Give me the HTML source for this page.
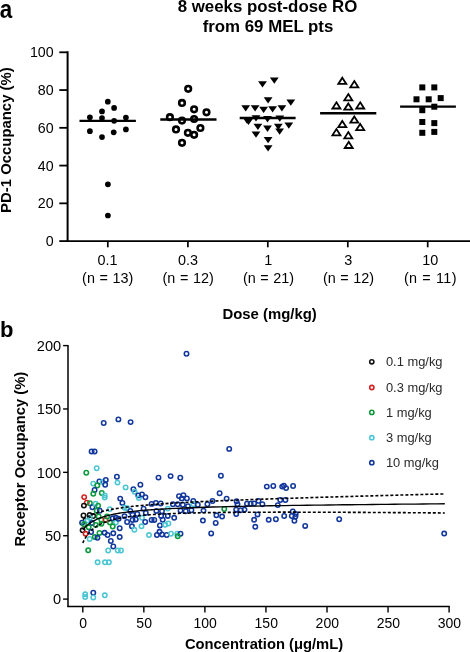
<!DOCTYPE html>
<html><head><meta charset="utf-8"><style>
html,body{margin:0;padding:0;background:#fff;}
body{width:470px;height:652px;overflow:hidden;font-family:"Liberation Sans", sans-serif;}
svg{display:block;will-change:transform}
</style></head><body>
<svg width="470" height="652" viewBox="0 0 470 652">
<text x="267.5" y="11.9" font-family="Liberation Sans, sans-serif" font-weight="bold" font-size="16.85" text-anchor="middle">8 weeks post-dose RO</text>
<text x="268" y="31.8" font-family="Liberation Sans, sans-serif" font-weight="bold" font-size="16.85" text-anchor="middle">from 69 MEL pts</text>
<text transform="translate(-0.2,17.6) scale(0.88,1)" font-family="Liberation Sans, sans-serif" font-weight="bold" font-size="25.5">a</text>
<text transform="translate(10.7,140.1) rotate(-90)" font-family="Liberation Sans, sans-serif" font-weight="bold" font-size="14.9" text-anchor="middle">PD-1 Occupancy (%)</text>
<line x1="67.6" y1="51.3" x2="67.6" y2="242" stroke="#000" stroke-width="2"/>
<line x1="66.6" y1="241.1" x2="470" y2="241.1" stroke="#000" stroke-width="1.8"/>
<line x1="59.3" y1="241.10" x2="67.6" y2="241.10" stroke="#000" stroke-width="1.8"/>
<text x="53.6" y="246.20" font-family="Liberation Sans, sans-serif" font-size="14.2" text-anchor="end">0</text>
<line x1="59.3" y1="203.34" x2="67.6" y2="203.34" stroke="#000" stroke-width="1.8"/>
<text x="53.6" y="208.44" font-family="Liberation Sans, sans-serif" font-size="14.2" text-anchor="end">20</text>
<line x1="59.3" y1="165.58" x2="67.6" y2="165.58" stroke="#000" stroke-width="1.8"/>
<text x="53.6" y="170.68" font-family="Liberation Sans, sans-serif" font-size="14.2" text-anchor="end">40</text>
<line x1="59.3" y1="127.82" x2="67.6" y2="127.82" stroke="#000" stroke-width="1.8"/>
<text x="53.6" y="132.92" font-family="Liberation Sans, sans-serif" font-size="14.2" text-anchor="end">60</text>
<line x1="59.3" y1="90.06" x2="67.6" y2="90.06" stroke="#000" stroke-width="1.8"/>
<text x="53.6" y="95.16" font-family="Liberation Sans, sans-serif" font-size="14.2" text-anchor="end">80</text>
<line x1="59.3" y1="52.30" x2="67.6" y2="52.30" stroke="#000" stroke-width="1.8"/>
<text x="53.6" y="57.40" font-family="Liberation Sans, sans-serif" font-size="14.2" text-anchor="end">100</text>
<line x1="107.8" y1="241" x2="107.8" y2="247.3" stroke="#000" stroke-width="1.7"/>
<text x="107.5" y="264.7" font-family="Liberation Sans, sans-serif" font-size="14.4" text-anchor="middle">0.1</text>
<text x="107.7" y="283" font-family="Liberation Sans, sans-serif" font-size="14.4" text-anchor="middle" word-spacing="0.6">(n = 13)</text>
<line x1="187.9" y1="241" x2="187.9" y2="247.3" stroke="#000" stroke-width="1.7"/>
<text x="187.9" y="264.7" font-family="Liberation Sans, sans-serif" font-size="14.4" text-anchor="middle">0.3</text>
<text x="188.1" y="283" font-family="Liberation Sans, sans-serif" font-size="14.4" text-anchor="middle" word-spacing="0.6">(n = 12)</text>
<line x1="267.8" y1="241" x2="267.8" y2="247.3" stroke="#000" stroke-width="1.7"/>
<text x="268.3" y="264.7" font-family="Liberation Sans, sans-serif" font-size="14.4" text-anchor="middle">1</text>
<text x="268.5" y="283" font-family="Liberation Sans, sans-serif" font-size="14.4" text-anchor="middle" word-spacing="0.6">(n = 21)</text>
<line x1="347.8" y1="241" x2="347.8" y2="247.3" stroke="#000" stroke-width="1.7"/>
<text x="348.3" y="264.7" font-family="Liberation Sans, sans-serif" font-size="14.4" text-anchor="middle">3</text>
<text x="348.5" y="283" font-family="Liberation Sans, sans-serif" font-size="14.4" text-anchor="middle" word-spacing="0.6">(n = 12)</text>
<line x1="427.7" y1="241" x2="427.7" y2="247.3" stroke="#000" stroke-width="1.7"/>
<text x="430.2" y="264.7" font-family="Liberation Sans, sans-serif" font-size="14.4" text-anchor="middle">10</text>
<text x="430.4" y="283" font-family="Liberation Sans, sans-serif" font-size="14.4" text-anchor="middle" word-spacing="0.6" letter-spacing="0.35">(n = 11)</text>
<text x="269.6" y="318.9" font-family="Liberation Sans, sans-serif" font-weight="bold" font-size="14.9" text-anchor="middle">Dose (mg/kg)</text>
<circle cx="107.8" cy="101.7" r="2.85" fill="#000"/>
<circle cx="114.1" cy="107.9" r="2.85" fill="#000"/>
<circle cx="102.0" cy="111.4" r="2.85" fill="#000"/>
<circle cx="89.9" cy="117.3" r="2.85" fill="#000"/>
<circle cx="102.0" cy="118.0" r="2.85" fill="#000"/>
<circle cx="114.1" cy="120.8" r="2.85" fill="#000"/>
<circle cx="125.9" cy="117.6" r="2.85" fill="#000"/>
<circle cx="89.9" cy="131.2" r="2.85" fill="#000"/>
<circle cx="102.0" cy="137.1" r="2.85" fill="#000"/>
<circle cx="113.7" cy="132.3" r="2.85" fill="#000"/>
<circle cx="125.9" cy="129.4" r="2.85" fill="#000"/>
<circle cx="107.9" cy="184.3" r="2.85" fill="#000"/>
<circle cx="107.9" cy="215.5" r="2.85" fill="#000"/>
<line x1="79.5" y1="120.8" x2="135.9" y2="120.8" stroke="#000" stroke-width="2.2"/>
<line x1="160.3" y1="119.5" x2="216.5" y2="119.5" stroke="#000" stroke-width="2.4"/>
<circle cx="188.2" cy="88.8" r="2.8" fill="none" stroke="#000" stroke-width="2.6"/>
<circle cx="182.0" cy="102.9" r="2.8" fill="none" stroke="#000" stroke-width="2.6"/>
<circle cx="194.1" cy="109.3" r="2.8" fill="none" stroke="#000" stroke-width="2.6"/>
<circle cx="206.5" cy="112.3" r="2.8" fill="none" stroke="#000" stroke-width="2.6"/>
<circle cx="169.9" cy="117.2" r="2.8" fill="none" stroke="#000" stroke-width="2.6"/>
<circle cx="182.0" cy="120.6" r="2.8" fill="none" stroke="#000" stroke-width="2.6"/>
<circle cx="194.1" cy="119.0" r="2.8" fill="none" stroke="#000" stroke-width="2.6"/>
<circle cx="176.0" cy="129.4" r="2.8" fill="none" stroke="#000" stroke-width="2.6"/>
<circle cx="200.4" cy="128.0" r="2.8" fill="none" stroke="#000" stroke-width="2.6"/>
<circle cx="187.9" cy="132.8" r="2.8" fill="none" stroke="#000" stroke-width="2.6"/>
<circle cx="194.1" cy="134.8" r="2.8" fill="none" stroke="#000" stroke-width="2.6"/>
<circle cx="182.0" cy="142.8" r="2.8" fill="none" stroke="#000" stroke-width="2.6"/>
<line x1="239.7" y1="118" x2="295.6" y2="118" stroke="#000" stroke-width="2.4"/>
<path d="M258.10,81.20 L266.90,81.20 L262.50,87.50 Z" fill="#000"/>
<path d="M269.90,77.50 L278.70,77.50 L274.30,83.80 Z" fill="#000"/>
<path d="M263.70,97.30 L272.50,97.30 L268.10,103.60 Z" fill="#000"/>
<path d="M286.40,99.50 L295.20,99.50 L290.80,105.80 Z" fill="#000"/>
<path d="M241.30,105.20 L250.10,105.20 L245.70,111.50 Z" fill="#000"/>
<path d="M250.70,105.20 L259.50,105.20 L255.10,111.50 Z" fill="#000"/>
<path d="M259.20,106.70 L268.00,106.70 L263.60,113.00 Z" fill="#000"/>
<path d="M268.20,106.20 L277.00,106.20 L272.60,112.50 Z" fill="#000"/>
<path d="M277.50,105.20 L286.30,105.20 L281.90,111.50 Z" fill="#000"/>
<path d="M242.60,117.50 L251.40,117.50 L247.00,123.80 Z" fill="#000"/>
<path d="M244.10,118.80 L252.90,118.80 L248.50,125.10 Z" fill="#000"/>
<path d="M251.60,115.20 L260.40,115.20 L256.00,121.50 Z" fill="#000"/>
<path d="M263.10,116.10 L271.90,116.10 L267.50,122.40 Z" fill="#000"/>
<path d="M275.40,115.40 L284.20,115.40 L279.80,121.70 Z" fill="#000"/>
<path d="M253.50,123.70 L262.30,123.70 L257.90,130.00 Z" fill="#000"/>
<path d="M263.10,125.60 L271.90,125.60 L267.50,131.90 Z" fill="#000"/>
<path d="M273.90,123.70 L282.70,123.70 L278.30,130.00 Z" fill="#000"/>
<path d="M284.40,122.50 L293.20,122.50 L288.80,128.80 Z" fill="#000"/>
<path d="M275.20,128.50 L284.00,128.50 L279.60,134.80 Z" fill="#000"/>
<path d="M251.60,131.40 L260.40,131.40 L256.00,137.70 Z" fill="#000"/>
<path d="M263.70,136.90 L272.50,136.90 L268.10,143.20 Z" fill="#000"/>
<path d="M263.70,145.30 L272.50,145.30 L268.10,151.60 Z" fill="#000"/>
<line x1="320.1" y1="113.2" x2="376.3" y2="113.2" stroke="#000" stroke-width="2.4"/>
<path d="M342.30,77.70 L346.30,83.90 L338.30,83.90 Z" fill="none" stroke="#000" stroke-width="1.8" stroke-linejoin="miter"/>
<path d="M354.30,81.10 L358.30,87.30 L350.30,87.30 Z" fill="none" stroke="#000" stroke-width="1.8" stroke-linejoin="miter"/>
<path d="M348.30,94.10 L352.30,100.30 L344.30,100.30 Z" fill="none" stroke="#000" stroke-width="1.8" stroke-linejoin="miter"/>
<path d="M336.40,102.30 L340.40,108.50 L332.40,108.50 Z" fill="none" stroke="#000" stroke-width="1.8" stroke-linejoin="miter"/>
<path d="M348.30,103.50 L352.30,109.70 L344.30,109.70 Z" fill="none" stroke="#000" stroke-width="1.8" stroke-linejoin="miter"/>
<path d="M360.20,102.30 L364.20,108.50 L356.20,108.50 Z" fill="none" stroke="#000" stroke-width="1.8" stroke-linejoin="miter"/>
<path d="M354.30,116.50 L358.30,122.70 L350.30,122.70 Z" fill="none" stroke="#000" stroke-width="1.8" stroke-linejoin="miter"/>
<path d="M342.30,120.90 L346.30,127.10 L338.30,127.10 Z" fill="none" stroke="#000" stroke-width="1.8" stroke-linejoin="miter"/>
<path d="M360.20,123.90 L364.20,130.10 L356.20,130.10 Z" fill="none" stroke="#000" stroke-width="1.8" stroke-linejoin="miter"/>
<path d="M336.40,129.10 L340.40,135.30 L332.40,135.30 Z" fill="none" stroke="#000" stroke-width="1.8" stroke-linejoin="miter"/>
<path d="M348.30,132.10 L352.30,138.30 L344.30,138.30 Z" fill="none" stroke="#000" stroke-width="1.8" stroke-linejoin="miter"/>
<path d="M348.70,141.80 L352.70,148.00 L344.70,148.00 Z" fill="none" stroke="#000" stroke-width="1.8" stroke-linejoin="miter"/>
<line x1="400.1" y1="106.6" x2="455.9" y2="106.6" stroke="#000" stroke-width="2.4"/>
<rect x="419.30" y="84.40" width="6" height="6" fill="#000"/>
<rect x="431.30" y="84.40" width="6" height="6" fill="#000"/>
<rect x="413.50" y="96.30" width="6" height="6" fill="#000"/>
<rect x="425.70" y="96.30" width="6" height="6" fill="#000"/>
<rect x="437.70" y="95.10" width="6" height="6" fill="#000"/>
<rect x="419.30" y="107.20" width="6" height="6" fill="#000"/>
<rect x="431.30" y="103.70" width="6" height="6" fill="#000"/>
<rect x="419.30" y="119.00" width="6" height="6" fill="#000"/>
<rect x="431.30" y="120.10" width="6" height="6" fill="#000"/>
<rect x="419.30" y="129.80" width="6" height="6" fill="#000"/>
<rect x="431.30" y="128.90" width="6" height="6" fill="#000"/>
<text x="0.1" y="337.1" font-family="Liberation Sans, sans-serif" font-weight="bold" font-size="22">b</text>
<text transform="translate(24.6,459.1) rotate(-90)" font-family="Liberation Sans, sans-serif" font-weight="bold" font-size="14.75" text-anchor="middle">Receptor Occupancy (%)</text>
<line x1="68" y1="344.9" x2="68" y2="607.1" stroke="#000" stroke-width="1.5"/>
<line x1="67.3" y1="606.4" x2="449.8" y2="606.4" stroke="#000" stroke-width="1.5"/>
<line x1="63.1" y1="599.10" x2="68" y2="599.10" stroke="#000" stroke-width="1.4"/>
<text x="61.2" y="604.30" font-family="Liberation Sans, sans-serif" font-size="14.6" text-anchor="end">0</text>
<line x1="63.1" y1="535.73" x2="68" y2="535.73" stroke="#000" stroke-width="1.4"/>
<text x="61.2" y="540.93" font-family="Liberation Sans, sans-serif" font-size="14.6" text-anchor="end">50</text>
<line x1="63.1" y1="472.35" x2="68" y2="472.35" stroke="#000" stroke-width="1.4"/>
<text x="61.2" y="477.55" font-family="Liberation Sans, sans-serif" font-size="14.6" text-anchor="end">100</text>
<line x1="63.1" y1="408.98" x2="68" y2="408.98" stroke="#000" stroke-width="1.4"/>
<text x="61.2" y="414.18" font-family="Liberation Sans, sans-serif" font-size="14.6" text-anchor="end">150</text>
<line x1="63.1" y1="345.60" x2="68" y2="345.60" stroke="#000" stroke-width="1.4"/>
<text x="61.2" y="350.80" font-family="Liberation Sans, sans-serif" font-size="14.6" text-anchor="end">200</text>
<line x1="82.80" y1="606.4" x2="82.80" y2="612.4" stroke="#000" stroke-width="1.4"/>
<text x="83.10" y="627.7" font-family="Liberation Sans, sans-serif" font-size="14" text-anchor="middle">0</text>
<line x1="143.85" y1="606.4" x2="143.85" y2="612.4" stroke="#000" stroke-width="1.4"/>
<text x="144.15" y="627.7" font-family="Liberation Sans, sans-serif" font-size="14" text-anchor="middle">50</text>
<line x1="204.90" y1="606.4" x2="204.90" y2="612.4" stroke="#000" stroke-width="1.4"/>
<text x="205.20" y="627.7" font-family="Liberation Sans, sans-serif" font-size="14" text-anchor="middle">100</text>
<line x1="265.95" y1="606.4" x2="265.95" y2="612.4" stroke="#000" stroke-width="1.4"/>
<text x="266.25" y="627.7" font-family="Liberation Sans, sans-serif" font-size="14" text-anchor="middle">150</text>
<line x1="327.00" y1="606.4" x2="327.00" y2="612.4" stroke="#000" stroke-width="1.4"/>
<text x="327.30" y="627.7" font-family="Liberation Sans, sans-serif" font-size="14" text-anchor="middle">200</text>
<line x1="388.05" y1="606.4" x2="388.05" y2="612.4" stroke="#000" stroke-width="1.4"/>
<text x="388.35" y="627.7" font-family="Liberation Sans, sans-serif" font-size="14" text-anchor="middle">250</text>
<line x1="449.10" y1="606.4" x2="449.10" y2="612.4" stroke="#000" stroke-width="1.4"/>
<text x="449.40" y="627.7" font-family="Liberation Sans, sans-serif" font-size="14" text-anchor="middle">300</text>
<text x="264" y="648.9" font-family="Liberation Sans, sans-serif" font-weight="bold" font-size="14.75" text-anchor="middle">Concentration (μg/mL)</text>
<circle cx="103.7" cy="423" r="2.2" fill="none" stroke="#12379c" stroke-width="1.55"/>
<circle cx="118.4" cy="419.4" r="2.2" fill="none" stroke="#12379c" stroke-width="1.55"/>
<circle cx="130.6" cy="422.1" r="2.2" fill="none" stroke="#12379c" stroke-width="1.55"/>
<circle cx="186.5" cy="353.8" r="2.2" fill="none" stroke="#12379c" stroke-width="1.55"/>
<circle cx="91.6" cy="451.5" r="2.2" fill="none" stroke="#12379c" stroke-width="1.55"/>
<circle cx="94.6" cy="451.5" r="2.2" fill="none" stroke="#12379c" stroke-width="1.55"/>
<circle cx="96.7" cy="468.2" r="2.2" fill="none" stroke="#4cc6d2" stroke-width="1.55"/>
<circle cx="86.3" cy="472.7" r="2.2" fill="none" stroke="#0a9a3c" stroke-width="1.55"/>
<circle cx="116.9" cy="476.7" r="2.2" fill="none" stroke="#12379c" stroke-width="1.55"/>
<circle cx="117.5" cy="482.6" r="2.2" fill="none" stroke="#4cc6d2" stroke-width="1.55"/>
<circle cx="99.4" cy="481.5" r="2.2" fill="none" stroke="#12379c" stroke-width="1.55"/>
<circle cx="102.6" cy="482" r="2.2" fill="none" stroke="#4cc6d2" stroke-width="1.55"/>
<circle cx="105.8" cy="479.9" r="2.2" fill="none" stroke="#12379c" stroke-width="1.55"/>
<circle cx="105.2" cy="484.7" r="2.2" fill="none" stroke="#12379c" stroke-width="1.55"/>
<circle cx="93.3" cy="483.6" r="2.2" fill="none" stroke="#4cc6d2" stroke-width="1.55"/>
<circle cx="97.3" cy="485.5" r="2.2" fill="none" stroke="#0a9a3c" stroke-width="1.55"/>
<circle cx="94.6" cy="490.0" r="2.2" fill="none" stroke="#12379c" stroke-width="1.55"/>
<circle cx="93.3" cy="493.8" r="2.2" fill="none" stroke="#0a9a3c" stroke-width="1.55"/>
<circle cx="101.8" cy="493" r="2.2" fill="none" stroke="#0a9a3c" stroke-width="1.55"/>
<circle cx="104.7" cy="495.4" r="2.2" fill="none" stroke="#4cc6d2" stroke-width="1.55"/>
<circle cx="104.7" cy="497.6" r="2.2" fill="none" stroke="#4cc6d2" stroke-width="1.55"/>
<circle cx="84.2" cy="497.1" r="2.2" fill="none" stroke="#d42020" stroke-width="1.55"/>
<circle cx="86.8" cy="502.6" r="2.2" fill="none" stroke="#d42020" stroke-width="1.55"/>
<circle cx="89.9" cy="503.2" r="2.2" fill="none" stroke="#0a9a3c" stroke-width="1.55"/>
<circle cx="83.9" cy="505.6" r="2.2" fill="none" stroke="#111111" stroke-width="1.55"/>
<circle cx="92.4" cy="507.3" r="2.2" fill="none" stroke="#12379c" stroke-width="1.55"/>
<circle cx="95.6" cy="503.7" r="2.2" fill="none" stroke="#4cc6d2" stroke-width="1.55"/>
<circle cx="98.1" cy="505.8" r="2.2" fill="none" stroke="#0a9a3c" stroke-width="1.55"/>
<circle cx="96.7" cy="510.8" r="2.2" fill="none" stroke="#0a9a3c" stroke-width="1.55"/>
<circle cx="99.8" cy="510.8" r="2.2" fill="none" stroke="#12379c" stroke-width="1.55"/>
<circle cx="109.8" cy="509.1" r="2.2" fill="none" stroke="#4cc6d2" stroke-width="1.55"/>
<circle cx="83.5" cy="515.5" r="2.2" fill="none" stroke="#111111" stroke-width="1.55"/>
<circle cx="89.6" cy="515.1" r="2.2" fill="none" stroke="#111111" stroke-width="1.55"/>
<circle cx="93.2" cy="516.1" r="2.2" fill="none" stroke="#111111" stroke-width="1.55"/>
<circle cx="89.9" cy="518" r="2.2" fill="none" stroke="#4cc6d2" stroke-width="1.55"/>
<circle cx="87.7" cy="520.5" r="2.2" fill="none" stroke="#4cc6d2" stroke-width="1.55"/>
<circle cx="98.6" cy="516.5" r="2.2" fill="none" stroke="#0a9a3c" stroke-width="1.55"/>
<circle cx="101.4" cy="520" r="2.2" fill="none" stroke="#0a9a3c" stroke-width="1.55"/>
<circle cx="105.5" cy="520" r="2.2" fill="none" stroke="#d42020" stroke-width="1.55"/>
<circle cx="107.1" cy="516.5" r="2.2" fill="none" stroke="#0a9a3c" stroke-width="1.55"/>
<circle cx="110" cy="522.4" r="2.2" fill="none" stroke="#0a9a3c" stroke-width="1.55"/>
<circle cx="112.7" cy="518.3" r="2.2" fill="none" stroke="#12379c" stroke-width="1.55"/>
<circle cx="115.9" cy="517.8" r="2.2" fill="none" stroke="#12379c" stroke-width="1.55"/>
<circle cx="115.9" cy="522.6" r="2.2" fill="none" stroke="#4cc6d2" stroke-width="1.55"/>
<circle cx="82.1" cy="522.7" r="2.2" fill="none" stroke="#12379c" stroke-width="1.55"/>
<circle cx="84" cy="524.3" r="2.2" fill="none" stroke="#0a9a3c" stroke-width="1.55"/>
<circle cx="92" cy="523" r="2.2" fill="none" stroke="#12379c" stroke-width="1.55"/>
<circle cx="95.8" cy="525" r="2.2" fill="none" stroke="#0a9a3c" stroke-width="1.55"/>
<circle cx="101.4" cy="523.8" r="2.2" fill="none" stroke="#0a9a3c" stroke-width="1.55"/>
<circle cx="88.7" cy="527.3" r="2.2" fill="none" stroke="#0a9a3c" stroke-width="1.55"/>
<circle cx="82.6" cy="530.3" r="2.2" fill="none" stroke="#111111" stroke-width="1.55"/>
<circle cx="91.1" cy="532" r="2.2" fill="none" stroke="#12379c" stroke-width="1.55"/>
<circle cx="85.6" cy="533.8" r="2.2" fill="none" stroke="#d42020" stroke-width="1.55"/>
<circle cx="99.5" cy="532.9" r="2.2" fill="none" stroke="#0a9a3c" stroke-width="1.55"/>
<circle cx="104.6" cy="532.8" r="2.2" fill="none" stroke="#12379c" stroke-width="1.55"/>
<circle cx="89.7" cy="539" r="2.2" fill="none" stroke="#4cc6d2" stroke-width="1.55"/>
<circle cx="94.8" cy="537.1" r="2.2" fill="none" stroke="#0a9a3c" stroke-width="1.55"/>
<circle cx="97.4" cy="537.8" r="2.2" fill="none" stroke="#12379c" stroke-width="1.55"/>
<circle cx="107.6" cy="535" r="2.2" fill="none" stroke="#12379c" stroke-width="1.55"/>
<circle cx="113.3" cy="533.3" r="2.2" fill="none" stroke="#12379c" stroke-width="1.55"/>
<circle cx="119.7" cy="528.2" r="2.2" fill="none" stroke="#12379c" stroke-width="1.55"/>
<circle cx="119.7" cy="537.1" r="2.2" fill="none" stroke="#12379c" stroke-width="1.55"/>
<circle cx="110.8" cy="541" r="2.2" fill="none" stroke="#12379c" stroke-width="1.55"/>
<circle cx="113.3" cy="546.5" r="2.2" fill="none" stroke="#12379c" stroke-width="1.55"/>
<circle cx="88.2" cy="550.3" r="2.2" fill="none" stroke="#0a9a3c" stroke-width="1.55"/>
<circle cx="108.2" cy="550.5" r="2.2" fill="none" stroke="#4cc6d2" stroke-width="1.55"/>
<circle cx="117.8" cy="550.5" r="2.2" fill="none" stroke="#4cc6d2" stroke-width="1.55"/>
<circle cx="121" cy="550.5" r="2.2" fill="none" stroke="#4cc6d2" stroke-width="1.55"/>
<circle cx="97.6" cy="562.3" r="2.2" fill="none" stroke="#4cc6d2" stroke-width="1.55"/>
<circle cx="105" cy="562.3" r="2.2" fill="none" stroke="#4cc6d2" stroke-width="1.55"/>
<circle cx="108.9" cy="562.3" r="2.2" fill="none" stroke="#4cc6d2" stroke-width="1.55"/>
<circle cx="112.7" cy="526.5" r="2.2" fill="none" stroke="#0a9a3c" stroke-width="1.55"/>
<circle cx="85.2" cy="594.3" r="2.2" fill="none" stroke="#4cc6d2" stroke-width="1.55"/>
<circle cx="85.2" cy="597.1" r="2.2" fill="none" stroke="#4cc6d2" stroke-width="1.55"/>
<circle cx="93.3" cy="592.7" r="2.2" fill="none" stroke="#12379c" stroke-width="1.55"/>
<circle cx="93.3" cy="597.5" r="2.2" fill="none" stroke="#4cc6d2" stroke-width="1.55"/>
<circle cx="104.8" cy="595.3" r="2.2" fill="none" stroke="#4cc6d2" stroke-width="1.55"/>
<circle cx="125.6" cy="487.4" r="2.2" fill="none" stroke="#4cc6d2" stroke-width="1.55"/>
<circle cx="133.4" cy="489.3" r="2.2" fill="none" stroke="#12379c" stroke-width="1.55"/>
<circle cx="140.4" cy="484.8" r="2.2" fill="none" stroke="#12379c" stroke-width="1.55"/>
<circle cx="158.5" cy="477.6" r="2.2" fill="none" stroke="#12379c" stroke-width="1.55"/>
<circle cx="134.6" cy="491.7" r="2.2" fill="none" stroke="#4cc6d2" stroke-width="1.55"/>
<circle cx="138.3" cy="495.4" r="2.2" fill="none" stroke="#12379c" stroke-width="1.55"/>
<circle cx="138.9" cy="498.1" r="2.2" fill="none" stroke="#4cc6d2" stroke-width="1.55"/>
<circle cx="142" cy="494.4" r="2.2" fill="none" stroke="#12379c" stroke-width="1.55"/>
<circle cx="145.4" cy="497.2" r="2.2" fill="none" stroke="#12379c" stroke-width="1.55"/>
<circle cx="120.2" cy="498.6" r="2.2" fill="none" stroke="#12379c" stroke-width="1.55"/>
<circle cx="122.4" cy="502.9" r="2.2" fill="none" stroke="#12379c" stroke-width="1.55"/>
<circle cx="124.5" cy="507.7" r="2.2" fill="none" stroke="#4cc6d2" stroke-width="1.55"/>
<circle cx="127.1" cy="508.2" r="2.2" fill="none" stroke="#4cc6d2" stroke-width="1.55"/>
<circle cx="130.3" cy="510.9" r="2.2" fill="none" stroke="#12379c" stroke-width="1.55"/>
<circle cx="143.6" cy="508.7" r="2.2" fill="none" stroke="#12379c" stroke-width="1.55"/>
<circle cx="151.6" cy="503.9" r="2.2" fill="none" stroke="#12379c" stroke-width="1.55"/>
<circle cx="155.9" cy="502.9" r="2.2" fill="none" stroke="#12379c" stroke-width="1.55"/>
<circle cx="156.4" cy="510.9" r="2.2" fill="none" stroke="#12379c" stroke-width="1.55"/>
<circle cx="124.5" cy="516.2" r="2.2" fill="none" stroke="#12379c" stroke-width="1.55"/>
<circle cx="132.5" cy="514.6" r="2.2" fill="none" stroke="#12379c" stroke-width="1.55"/>
<circle cx="137.3" cy="514" r="2.2" fill="none" stroke="#12379c" stroke-width="1.55"/>
<circle cx="145.8" cy="513" r="2.2" fill="none" stroke="#12379c" stroke-width="1.55"/>
<circle cx="118.6" cy="518.8" r="2.2" fill="none" stroke="#12379c" stroke-width="1.55"/>
<circle cx="127.1" cy="522" r="2.2" fill="none" stroke="#12379c" stroke-width="1.55"/>
<circle cx="132.5" cy="519.9" r="2.2" fill="none" stroke="#12379c" stroke-width="1.55"/>
<circle cx="135.7" cy="519.4" r="2.2" fill="none" stroke="#12379c" stroke-width="1.55"/>
<circle cx="142" cy="517.8" r="2.2" fill="none" stroke="#4cc6d2" stroke-width="1.55"/>
<circle cx="145.2" cy="522" r="2.2" fill="none" stroke="#12379c" stroke-width="1.55"/>
<circle cx="151.6" cy="519.9" r="2.2" fill="none" stroke="#12379c" stroke-width="1.55"/>
<circle cx="154.3" cy="519.9" r="2.2" fill="none" stroke="#12379c" stroke-width="1.55"/>
<circle cx="141.5" cy="526.3" r="2.2" fill="none" stroke="#4cc6d2" stroke-width="1.55"/>
<circle cx="131.9" cy="526.3" r="2.2" fill="none" stroke="#12379c" stroke-width="1.55"/>
<circle cx="134.4" cy="529.8" r="2.2" fill="none" stroke="#4cc6d2" stroke-width="1.55"/>
<circle cx="149" cy="535.1" r="2.2" fill="none" stroke="#4cc6d2" stroke-width="1.55"/>
<circle cx="170.6" cy="476.1" r="2.2" fill="none" stroke="#12379c" stroke-width="1.55"/>
<circle cx="180.3" cy="477.7" r="2.2" fill="none" stroke="#12379c" stroke-width="1.55"/>
<circle cx="179" cy="496.1" r="2.2" fill="none" stroke="#12379c" stroke-width="1.55"/>
<circle cx="183.4" cy="495.2" r="2.2" fill="none" stroke="#12379c" stroke-width="1.55"/>
<circle cx="181.8" cy="498.4" r="2.2" fill="none" stroke="#12379c" stroke-width="1.55"/>
<circle cx="186.9" cy="498.4" r="2.2" fill="none" stroke="#12379c" stroke-width="1.55"/>
<circle cx="193.3" cy="501" r="2.2" fill="none" stroke="#12379c" stroke-width="1.55"/>
<circle cx="160.7" cy="503.5" r="2.2" fill="none" stroke="#12379c" stroke-width="1.55"/>
<circle cx="172.9" cy="504.2" r="2.2" fill="none" stroke="#12379c" stroke-width="1.55"/>
<circle cx="177.7" cy="504.2" r="2.2" fill="none" stroke="#12379c" stroke-width="1.55"/>
<circle cx="182.8" cy="504.8" r="2.2" fill="none" stroke="#12379c" stroke-width="1.55"/>
<circle cx="188" cy="506.1" r="2.2" fill="none" stroke="#12379c" stroke-width="1.55"/>
<circle cx="193.3" cy="504.2" r="2.2" fill="none" stroke="#4cc6d2" stroke-width="1.55"/>
<circle cx="197.8" cy="504.8" r="2.2" fill="none" stroke="#12379c" stroke-width="1.55"/>
<circle cx="207.4" cy="504.2" r="2.2" fill="none" stroke="#12379c" stroke-width="1.55"/>
<circle cx="212.5" cy="501" r="2.2" fill="none" stroke="#12379c" stroke-width="1.55"/>
<circle cx="167.8" cy="508.6" r="2.2" fill="none" stroke="#4cc6d2" stroke-width="1.55"/>
<circle cx="162" cy="511.2" r="2.2" fill="none" stroke="#12379c" stroke-width="1.55"/>
<circle cx="180.5" cy="510.6" r="2.2" fill="none" stroke="#12379c" stroke-width="1.55"/>
<circle cx="185.7" cy="511.2" r="2.2" fill="none" stroke="#12379c" stroke-width="1.55"/>
<circle cx="191.4" cy="510.2" r="2.2" fill="none" stroke="#12379c" stroke-width="1.55"/>
<circle cx="203.5" cy="510.6" r="2.2" fill="none" stroke="#12379c" stroke-width="1.55"/>
<circle cx="161.1" cy="515.9" r="2.2" fill="none" stroke="#12379c" stroke-width="1.55"/>
<circle cx="167.8" cy="515.9" r="2.2" fill="none" stroke="#12379c" stroke-width="1.55"/>
<circle cx="174.2" cy="517.8" r="2.2" fill="none" stroke="#12379c" stroke-width="1.55"/>
<circle cx="162.7" cy="519.7" r="2.2" fill="none" stroke="#12379c" stroke-width="1.55"/>
<circle cx="202.9" cy="520.6" r="2.2" fill="none" stroke="#12379c" stroke-width="1.55"/>
<circle cx="159.9" cy="525.4" r="2.2" fill="none" stroke="#12379c" stroke-width="1.55"/>
<circle cx="165.2" cy="524.8" r="2.2" fill="none" stroke="#4cc6d2" stroke-width="1.55"/>
<circle cx="168.4" cy="523.5" r="2.2" fill="none" stroke="#4cc6d2" stroke-width="1.55"/>
<circle cx="159.5" cy="531.8" r="2.2" fill="none" stroke="#12379c" stroke-width="1.55"/>
<circle cx="156.9" cy="535" r="2.2" fill="none" stroke="#12379c" stroke-width="1.55"/>
<circle cx="162" cy="534.4" r="2.2" fill="none" stroke="#12379c" stroke-width="1.55"/>
<circle cx="166.7" cy="535" r="2.2" fill="none" stroke="#12379c" stroke-width="1.55"/>
<circle cx="171" cy="533.7" r="2.2" fill="none" stroke="#4cc6d2" stroke-width="1.55"/>
<circle cx="177.3" cy="533.7" r="2.2" fill="none" stroke="#4cc6d2" stroke-width="1.55"/>
<circle cx="180.5" cy="533.7" r="2.2" fill="none" stroke="#12379c" stroke-width="1.55"/>
<circle cx="177.7" cy="536.3" r="2.2" fill="none" stroke="#0a9a3c" stroke-width="1.55"/>
<circle cx="211.2" cy="533.4" r="2.2" fill="none" stroke="#12379c" stroke-width="1.55"/>
<circle cx="220.9" cy="475.7" r="2.2" fill="none" stroke="#12379c" stroke-width="1.55"/>
<circle cx="266.8" cy="486.6" r="2.2" fill="none" stroke="#12379c" stroke-width="1.55"/>
<circle cx="219.6" cy="493.2" r="2.2" fill="none" stroke="#12379c" stroke-width="1.55"/>
<circle cx="226.6" cy="498.7" r="2.2" fill="none" stroke="#12379c" stroke-width="1.55"/>
<circle cx="236.6" cy="501.3" r="2.2" fill="none" stroke="#12379c" stroke-width="1.55"/>
<circle cx="237.5" cy="504.2" r="2.2" fill="none" stroke="#12379c" stroke-width="1.55"/>
<circle cx="247" cy="503.8" r="2.2" fill="none" stroke="#12379c" stroke-width="1.55"/>
<circle cx="250.6" cy="503.8" r="2.2" fill="none" stroke="#12379c" stroke-width="1.55"/>
<circle cx="254.1" cy="503.5" r="2.2" fill="none" stroke="#12379c" stroke-width="1.55"/>
<circle cx="258.5" cy="500.9" r="2.2" fill="none" stroke="#12379c" stroke-width="1.55"/>
<circle cx="262.4" cy="504.2" r="2.2" fill="none" stroke="#12379c" stroke-width="1.55"/>
<circle cx="224.3" cy="509" r="2.2" fill="none" stroke="#0a9a3c" stroke-width="1.55"/>
<circle cx="236.2" cy="509.6" r="2.2" fill="none" stroke="#12379c" stroke-width="1.55"/>
<circle cx="240.7" cy="510.2" r="2.2" fill="none" stroke="#12379c" stroke-width="1.55"/>
<circle cx="244.5" cy="509.6" r="2.2" fill="none" stroke="#12379c" stroke-width="1.55"/>
<circle cx="236.2" cy="514.1" r="2.2" fill="none" stroke="#12379c" stroke-width="1.55"/>
<circle cx="216.4" cy="515.3" r="2.2" fill="none" stroke="#12379c" stroke-width="1.55"/>
<circle cx="222.1" cy="516.6" r="2.2" fill="none" stroke="#12379c" stroke-width="1.55"/>
<circle cx="257.5" cy="514.4" r="2.2" fill="none" stroke="#12379c" stroke-width="1.55"/>
<circle cx="254.1" cy="519.8" r="2.2" fill="none" stroke="#12379c" stroke-width="1.55"/>
<circle cx="268.7" cy="519.8" r="2.2" fill="none" stroke="#12379c" stroke-width="1.55"/>
<circle cx="215.7" cy="523" r="2.2" fill="none" stroke="#12379c" stroke-width="1.55"/>
<circle cx="255.3" cy="526.8" r="2.2" fill="none" stroke="#12379c" stroke-width="1.55"/>
<circle cx="273.3" cy="486" r="2.2" fill="none" stroke="#12379c" stroke-width="1.55"/>
<circle cx="282.2" cy="486.6" r="2.2" fill="none" stroke="#12379c" stroke-width="1.55"/>
<circle cx="283.9" cy="485.6" r="2.2" fill="none" stroke="#12379c" stroke-width="1.55"/>
<circle cx="286.1" cy="488.1" r="2.2" fill="none" stroke="#12379c" stroke-width="1.55"/>
<circle cx="293.1" cy="486" r="2.2" fill="none" stroke="#12379c" stroke-width="1.55"/>
<circle cx="280.3" cy="500" r="2.2" fill="none" stroke="#12379c" stroke-width="1.55"/>
<circle cx="285.4" cy="500" r="2.2" fill="none" stroke="#12379c" stroke-width="1.55"/>
<circle cx="277.8" cy="505.1" r="2.2" fill="none" stroke="#12379c" stroke-width="1.55"/>
<circle cx="292.8" cy="511.5" r="2.2" fill="none" stroke="#12379c" stroke-width="1.55"/>
<circle cx="295.7" cy="514.1" r="2.2" fill="none" stroke="#12379c" stroke-width="1.55"/>
<circle cx="291.8" cy="516" r="2.2" fill="none" stroke="#12379c" stroke-width="1.55"/>
<circle cx="295.4" cy="516.6" r="2.2" fill="none" stroke="#12379c" stroke-width="1.55"/>
<circle cx="284.2" cy="516" r="2.2" fill="none" stroke="#12379c" stroke-width="1.55"/>
<circle cx="294.4" cy="520.8" r="2.2" fill="none" stroke="#12379c" stroke-width="1.55"/>
<circle cx="275.9" cy="519.2" r="2.2" fill="none" stroke="#12379c" stroke-width="1.55"/>
<circle cx="305.2" cy="525.9" r="2.2" fill="none" stroke="#12379c" stroke-width="1.55"/>
<circle cx="229.2" cy="448.9" r="2.2" fill="none" stroke="#12379c" stroke-width="1.55"/>
<circle cx="339.2" cy="519.2" r="2.2" fill="none" stroke="#12379c" stroke-width="1.55"/>
<circle cx="444.2" cy="533.6" r="2.2" fill="none" stroke="#12379c" stroke-width="1.55"/>
<polyline points="82.80,529.90 83.39,529.16 83.99,528.47 84.58,527.81 85.17,527.19 85.77,526.60 86.36,526.04 86.95,525.51 87.54,525.00 88.14,524.52 88.73,524.05 89.32,523.61 89.92,523.19 90.51,522.78 91.10,522.39 91.70,522.02 92.29,521.66 92.88,521.31 93.48,520.98 94.07,520.66 94.66,520.36 95.26,520.06 95.85,519.77 96.44,519.50 97.03,519.23 97.63,518.97 98.22,518.72 98.81,518.48 99.41,518.25 100.00,518.02 100.50,517.84 102.55,517.12 104.60,516.48 106.66,515.89 108.71,515.36 110.76,514.87 112.81,514.42 114.86,514.01 116.91,513.62 118.97,513.26 121.02,512.93 123.07,512.62 125.12,512.33 127.17,512.05 129.22,511.79 131.28,511.55 133.33,511.32 135.38,511.10 137.43,510.90 139.48,510.70 141.53,510.52 143.59,510.34 145.64,510.17 147.69,510.01 149.74,509.86 151.79,509.71 153.84,509.57 155.90,509.43 157.95,509.30 160.00,509.18 162.00,509.06 169.25,508.67 176.50,508.32 183.75,508.02 191.01,507.74 198.26,507.49 205.51,507.26 212.76,507.04 220.01,506.85 227.26,506.67 234.51,506.50 241.76,506.34 249.02,506.19 256.27,506.05 263.52,505.92 270.77,505.79 278.02,505.67 285.27,505.56 292.52,505.45 299.77,505.34 307.03,505.24 314.28,505.14 321.53,505.05 328.78,504.96 336.03,504.87 343.28,504.79 350.53,504.71 357.78,504.62 365.04,504.55 372.29,504.47 379.54,504.40 386.79,504.32 394.04,504.25 401.29,504.18 408.54,504.11 415.79,504.05 423.05,503.98 430.30,503.92 437.55,503.85 444.80,503.79" fill="none" stroke="#000" stroke-width="1.35"/>
<polyline points="82.80,519.52 83.39,519.12 83.99,518.74 84.58,518.37 85.17,518.01 85.77,517.67 86.36,517.34 86.95,517.02 87.54,516.72 88.14,516.42 88.73,516.13 89.32,515.86 89.92,515.59 90.51,515.33 91.10,515.07 91.70,514.83 92.29,514.59 92.88,514.36 93.48,514.14 94.07,513.92 94.66,513.70 95.26,513.50 95.85,513.30 96.44,513.10 97.03,512.91 97.63,512.73 98.22,512.54 98.81,512.37 99.41,512.20 100.00,512.03 100.50,511.89 102.55,511.35 104.60,510.85 106.66,510.38 108.71,509.95 110.76,509.54 112.81,509.16 114.86,508.80 116.91,508.46 118.97,508.14 121.02,507.84 123.07,507.55 125.12,507.28 127.17,507.02 129.22,506.77 131.28,506.54 133.33,506.31 135.38,506.09 137.43,505.88 139.48,505.68 141.53,505.48 143.59,505.29 145.64,505.11 147.69,504.94 149.74,504.77 151.79,504.60 153.84,504.44 155.90,504.29 157.95,504.13 160.00,503.99 162.00,503.85 169.25,503.37 176.50,502.93 183.75,502.52 191.01,502.14 198.26,501.77 205.51,501.43 212.76,501.11 220.01,500.80 227.26,500.50 234.51,500.21 241.76,499.93 249.02,499.66 256.27,499.40 263.52,499.15 270.77,498.90 278.02,498.65 285.27,498.42 292.52,498.18 299.77,497.95 307.03,497.73 314.28,497.51 321.53,497.29 328.78,497.07 336.03,496.86 343.28,496.65 350.53,496.44 357.78,496.24 365.04,496.03 372.29,495.83 379.54,495.63 386.79,495.43 394.04,495.24 401.29,495.04 408.54,494.85 415.79,494.66 423.05,494.46 430.30,494.27 437.55,494.08 444.80,493.90" fill="none" stroke="#000" stroke-width="1.6" stroke-dasharray="3 2"/>
<polyline points="82.80,543.02 83.39,541.71 83.99,540.49 84.58,539.35 85.17,538.29 85.77,537.30 86.36,536.38 86.95,535.50 87.54,534.68 88.14,533.91 88.73,533.18 89.32,532.49 89.92,531.84 90.51,531.22 91.10,530.63 91.70,530.07 92.29,529.54 92.88,529.03 93.48,528.54 94.07,528.08 94.66,527.64 95.26,527.22 95.85,526.81 96.44,526.42 97.03,526.05 97.63,525.69 98.22,525.35 98.81,525.02 99.41,524.70 100.00,524.39 100.50,524.14 102.55,523.20 104.60,522.36 106.66,521.61 108.71,520.93 110.76,520.32 112.81,519.77 114.86,519.27 116.91,518.81 118.97,518.39 121.02,518.01 123.07,517.65 125.12,517.33 127.17,517.02 129.22,516.74 131.28,516.48 133.33,516.23 135.38,516.00 137.43,515.79 139.48,515.59 141.53,515.40 143.59,515.22 145.64,515.06 147.69,514.90 149.74,514.75 151.79,514.61 153.84,514.48 155.90,514.36 157.95,514.24 160.00,514.13 162.00,514.03 169.25,513.70 176.50,513.42 183.75,513.19 191.01,513.00 198.26,512.83 205.51,512.70 212.76,512.58 220.01,512.49 227.26,512.41 234.51,512.34 241.76,512.29 249.02,512.25 256.27,512.21 263.52,512.19 270.77,512.18 278.02,512.17 285.27,512.17 292.52,512.17 299.77,512.18 307.03,512.19 314.28,512.21 321.53,512.23 328.78,512.25 336.03,512.28 343.28,512.31 350.53,512.35 357.78,512.38 365.04,512.42 372.29,512.46 379.54,512.50 386.79,512.55 394.04,512.60 401.29,512.64 408.54,512.69 415.79,512.75 423.05,512.80 430.30,512.85 437.55,512.91 444.80,512.96" fill="none" stroke="#000" stroke-width="1.6" stroke-dasharray="3 2"/>
<circle cx="371.8" cy="361.8" r="2.1" fill="none" stroke="#111111" stroke-width="1.6"/>
<text x="385.9" y="366.10" font-family="Liberation Sans, sans-serif" font-size="12.9" fill="#2a2a2a">0.1 mg/kg</text>
<circle cx="371.8" cy="387.5" r="2.1" fill="none" stroke="#d42020" stroke-width="1.6"/>
<text x="385.9" y="391.80" font-family="Liberation Sans, sans-serif" font-size="12.9" fill="#2a2a2a">0.3 mg/kg</text>
<circle cx="371.8" cy="412.4" r="2.1" fill="none" stroke="#0a9a3c" stroke-width="1.6"/>
<text x="385.9" y="416.70" font-family="Liberation Sans, sans-serif" font-size="12.9" fill="#2a2a2a">1 mg/kg</text>
<circle cx="371.8" cy="437.7" r="2.1" fill="none" stroke="#4cc6d2" stroke-width="1.6"/>
<text x="385.9" y="442.00" font-family="Liberation Sans, sans-serif" font-size="12.9" fill="#2a2a2a">3 mg/kg</text>
<circle cx="371.8" cy="462.7" r="2.1" fill="none" stroke="#12379c" stroke-width="1.6"/>
<text x="385.9" y="467.00" font-family="Liberation Sans, sans-serif" font-size="12.9" fill="#2a2a2a">10 mg/kg</text>
</svg>
</body></html>
